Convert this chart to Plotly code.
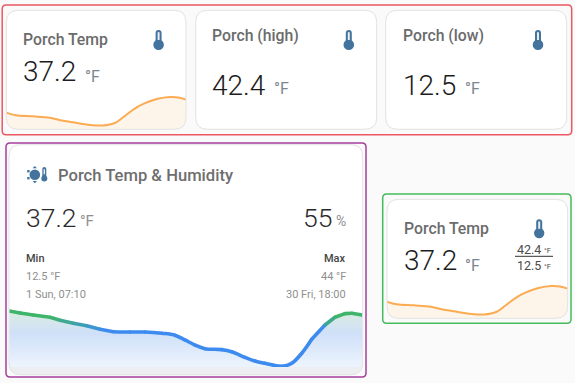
import plotly.graph_objects as go

# ---------- data ----------
spark_hours = [0, 1.3, 3.6, 5.8, 7.1, 8.9, 11.2, 12.9, 14.5, 15.6, 17, 18.3, 20.1, 21.9, 23, 24]
spark_temp = [26.0, 23.2, 22.1, 20.7, 18.3, 15.8, 13.0, 12.5, 15.1, 21.1, 29.5, 35.1, 40.3, 42.4, 41.8, 39.6]

big_hours = [0, .73, 1.63, 2.77, 3.45, 4.35, 5.26, 6.17, 7.07, 8.2, 9.22, 10.36, 11.26, 11.94, 12.62,
             13.3, 14.44, 15.12, 16.02, 16.7, 17.38, 18.52, 19.2, 19.88, 20.56, 21.46, 22.14, 22.82, 23.28, 24]
big_temp = [44.0, 42.8, 41.7, 40.4, 38.7, 37.0, 35.6, 33.6, 32.2, 32.0, 32.0, 31.3, 30.2, 27.5, 24.6,
            22.5, 22.0, 20.8, 17.6, 15.5, 14.2, 12.5, 14.2, 19.9, 27.9, 36.0, 40.4, 42.5, 42.7, 41.7]

W, H = 575, 383
BG = "#fafafa"
ORANGE = "#fbab52"
ORANGE_FILL = "#fef5ea"
ICON = "#44739e"
FONT = "Roboto"
TITLE_C = "#6b6b6b"
VAL_C = "#1c1c1c"
UNIT_C = "#7b8690"
GREY = "#8f8f8f"


def X(x):
    return x / W


def Y(y):
    return 1 - y / H


def P(*cmds):
    out = []
    for c in cmds:
        if isinstance(c, str):
            out.append(c)
        else:
            out.append(f"{X(c[0]):.5f},{Y(c[1]):.5f}")
    return " ".join(out)


def rrect(x0, y0, x1, y1, r):
    return P("M", (x0 + r, y0), "L", (x1 - r, y0), "Q", (x1, y0), (x1, y0 + r),
             "L", (x1, y1 - r), "Q", (x1, y1), (x1 - r, y1),
             "L", (x0 + r, y1), "Q", (x0, y1), (x0, y1 - r),
             "L", (x0, y0 + r), "Q", (x0, y0), (x0 + r, y0), "Z")


shapes = []


def add_path(path, fill="rgba(0,0,0,0)", line=None, width=0, layer="above"):
    shapes.append(dict(type="path", xref="paper", yref="paper", path=path, fillcolor=fill,
                       line=dict(color=line or "rgba(0,0,0,0)", width=width), layer=layer))


def add_circle(cx, cy, r, fill):
    shapes.append(dict(type="circle", xref="paper", yref="paper", x0=X(cx - r), x1=X(cx + r),
                       y0=Y(cy + r), y1=Y(cy - r), fillcolor=fill, line=dict(width=0), layer="above"))


def card(x0, y0, x1, y1, r=12):
    add_path(rrect(x0, y0, x1, y1, r), fill="white", layer="below")


def card_outline(x0, y0, x1, y1, r=12):
    # page-coloured bottom corners hide the area fills, then the outline goes on top
    add_path(P("M", (x0 - 1, y1 + 1), "L", (x0 + r, y1 + 1), "L", (x0 + r, y1), "Q", (x0, y1), (x0, y1 - r),
               "L", (x0 - 1, y1 - r), "Z"), fill=BG)
    add_path(P("M", (x1 + 1, y1 + 1), "L", (x1 - r, y1 + 1), "L", (x1 - r, y1), "Q", (x1, y1), (x1, y1 - r),
               "L", (x1 + 1, y1 - r), "Z"), fill=BG)
    add_path(rrect(x0, y0, x1, y1, r), line="#e2e2e2", width=1)


def thermo(cx, top, bottom, bulb_r, stem_hw, fill=ICON):
    cy = bottom - bulb_r
    add_path(P("M", (cx - stem_hw, cy), "L", (cx - stem_hw, top + stem_hw),
               "Q", (cx - stem_hw, top), (cx, top), "Q", (cx + stem_hw, top), (cx + stem_hw, top + stem_hw),
               "L", (cx + stem_hw, cy), "Z"), fill=fill)
    add_circle(cx, cy, bulb_r, fill)
    slot = max(stem_hw * 0.33, 0.7)
    add_path(P("M", (cx - slot, top + 2.2), "L", (cx + slot, top + 2.2),
               "L", (cx + slot, top + (bottom - top) * 0.5), "L", (cx - slot, top + (bottom - top) * 0.5), "Z"),
             fill="#e8eef4")


annotations = []


def text(x, y, s, size, color, anchor="left", weight=400):
    annotations.append(dict(x=X(x), y=Y(y), xref="paper", yref="paper", text=s, showarrow=False,
                            xanchor=anchor, yanchor="middle", borderpad=0, borderwidth=0, align=anchor,
                            font=dict(family=FONT, size=size, color=color, weight=weight)))


# ---------- cards ----------
cards = [(6.3, 10.3, 186, 129.3), (195.7, 10.3, 376.7, 129.3), (385.7, 10.3, 566.7, 129.3),
         (387, 199.3, 567.7, 318.3), (9, 144.7, 362.7, 374.7)]
for c in cards:
    card(*c)
shapes.append(dict(type="rect", xref="paper", yref="paper", x0=X(9), x1=X(362.7), y0=Y(374.7), y1=Y(367),
                   fillcolor="#eceef1", line=dict(width=0), layer="below"))

fig = go.Figure()


def spark(xa, ya):
    fig.add_trace(go.Scatter(x=spark_hours, y=spark_temp, xaxis=xa, yaxis=ya, mode="lines",
                             line=dict(color=ORANGE, width=2, shape="spline"),
                             fill="tozeroy", fillcolor=ORANGE_FILL, showlegend=False, hoverinfo="skip"))


spark("x", "y")
spark("x3", "y3")

# big chart: gradient area + line coloured by value
BIG_MIN, BIG_MAX = 12.1, 47.4
BLUE_BELOW = 33
fig.add_trace(go.Scatter(x=big_hours, y=big_temp, xaxis="x2", yaxis="y2", mode="lines",
                         line=dict(width=0, shape="spline"), fill="tozeroy",
                         fillgradient=dict(type="vertical", start=BIG_MIN, stop=44,
                                           colorscale=[[0, "#edf4fd"], [0.6, "#cfe0f8"], [0.82, "#d6e7ec"],
                                                       [1, "#d8eddc"]]),
                         showlegend=False, hoverinfo="skip"))


def mix(v):
    t = min(max((v - BLUE_BELOW) / 7, 0), 1)
    a, b = (61, 139, 239), (63, 181, 107)
    return "rgb(%d,%d,%d)" % tuple(round(a[i] + (b[i] - a[i]) * t) for i in range(3))


blue_idx = [i for i, v in enumerate(big_temp) if v <= BLUE_BELOW]
first, last = blue_idx[0], blue_idx[-1]
for i in list(range(0, first)) + list(range(last, len(big_hours) - 1)):
    fig.add_trace(go.Scatter(x=big_hours[i:i + 2], y=big_temp[i:i + 2], xaxis="x2", yaxis="y2", mode="lines",
                             line=dict(color=mix((big_temp[i] + big_temp[i + 1]) / 2), width=3.6),
                             showlegend=False, hoverinfo="skip"))
fig.add_trace(go.Scatter(x=big_hours[first:last + 1], y=big_temp[first:last + 1], xaxis="x2", yaxis="y2",
                         mode="lines", line=dict(color=mix(BLUE_BELOW), width=3.6, shape="spline"),
                         showlegend=False, hoverinfo="skip"))
fig.add_trace(go.Scatter(x=big_hours, y=big_temp, xaxis="x2", yaxis="y2", mode="markers",
                         marker=dict(size=3.6, color=[mix(v) for v in big_temp], line=dict(width=0)),
                         showlegend=False, hoverinfo="skip"))

for c in cards:
    card_outline(*c)

# ---------- coloured frames ----------
add_path(rrect(2.2, 5, 571.7, 134.7, 4), line="#ec5762", width=1.5)
add_path(rrect(6, 143, 366, 377, 4), line="#a53f9e", width=1.5)
add_path(rrect(382.7, 194, 571, 323.3, 4), line="#45bb5c", width=1.5)

# ---------- icons ----------
thermo(158.6, 30, 50, 5.3, 3)
thermo(348.8, 30, 50, 5.3, 3)
thermo(538, 30, 50, 5.3, 3)
thermo(539.2, 219.3, 238.3, 5.2, 3)
thermo(44.3, 167, 181.5, 3, 2)
add_circle(34.8, 174.7, 5.3, ICON)
for pts in [[(34.8, 166), (32.6, 168.3), (37, 168.3)], [(34.8, 183.2), (32.6, 181), (37, 181)]]:
    add_path(P("M", pts[0], "L", pts[1], "L", pts[2], "Z"), fill=ICON)
for sx, sy in [(28.4, 171.2), (28.4, 178.2)]:
    add_path(P("M", (sx - 1.2, sy - 1.2), "L", (sx + 1.2, sy - 1.2), "L", (sx + 1.2, sy + 1.2),
               "L", (sx - 1.2, sy + 1.2), "Z"), fill=ICON)

# ---------- texts ----------
text(23, 39.5, "Porch Temp", 15.8, TITLE_C, weight=500)
text(23, 71.7, "37.2", 28, VAL_C, weight=300)
text(84.5, 76, "°F", 16, UNIT_C)
text(212.3, 35.5, "Porch (high)", 15.8, TITLE_C, weight=500)
text(212.3, 85, "42.4", 28, VAL_C, weight=300)
text(274, 89, "°F", 16, UNIT_C)
text(402.5, 35.5, "Porch (low)", 15.8, TITLE_C, weight=500)
text(402.5, 85, "12.5", 28, VAL_C, weight=300)
text(464.5, 89, "°F", 16, UNIT_C)
text(403.5, 228.2, "Porch Temp", 15.8, TITLE_C, weight=500)
text(403.5, 260.7, "37.2", 28, VAL_C, weight=300)
text(465, 265, "°F", 16, UNIT_C)
text(516.5, 249.3, "42.4", 12.5, "#4a4a4a")
text(544, 250.5, "°F", 7.5, "#4a4a4a")
text(516.5, 265, "12.5", 12.5, "#4a4a4a")
text(544, 266, "°F", 7.5, "#4a4a4a")
shapes.append(dict(type="line", xref="paper", yref="paper", x0=X(515), x1=X(553), y0=Y(256.3), y1=Y(256.3),
                   line=dict(color="#333333", width=1), layer="above"))

text(58, 175.5, "Porch Temp & Humidity", 16.6, "#6e6e6e", weight=500)
text(25.5, 217.3, "37.2", 26.5, "#2a2a2a", weight=300)
text(80, 221, "°F", 15, GREY)
text(331.7, 217.3, "55", 26.5, "#2a2a2a", anchor="right", weight=300)
text(346, 221, "%", 14, GREY, anchor="right")
text(25.5, 258.7, "Min", 11, "#444444", weight=500)
text(25.5, 276.3, "12.5 °F", 11, GREY)
text(25.5, 294.7, "1 Sun, 07:10", 11, GREY)
text(346, 258.7, "Max", 11, "#444444", anchor="right", weight=500)
text(346, 276.3, "44 °F", 11, GREY, anchor="right")
text(346, 294.7, "30 Fri, 18:00", 11, GREY, anchor="right")


def hidden(**kw):
    return dict(visible=False, fixedrange=True, **kw)


fig.update_layout(
    width=W, height=H, margin=dict(l=0, r=0, t=0, b=0), paper_bgcolor=BG, plot_bgcolor="rgba(0,0,0,0)",
    showlegend=False, shapes=shapes, annotations=annotations,
    xaxis=hidden(domain=[X(6.3), X(186)], range=[0, 24]),
    yaxis=hidden(domain=[Y(129.3), Y(90)], range=[8.5, 49.75]),
    xaxis2=hidden(domain=[X(9.3), X(362.3)], range=[0, 24], anchor="y2"),
    yaxis2=hidden(domain=[Y(367), Y(305)], range=[BIG_MIN, BIG_MAX], anchor="x2"),
    xaxis3=hidden(domain=[X(387), X(567.7)], range=[0, 24], anchor="y3"),
    yaxis3=hidden(domain=[Y(318.3), Y(279)], range=[8.5, 49.75], anchor="x3"),
)

fig.write_html("out.html", config={"displayModeBar": False},
               post_script="document.body.style.margin='0';")
